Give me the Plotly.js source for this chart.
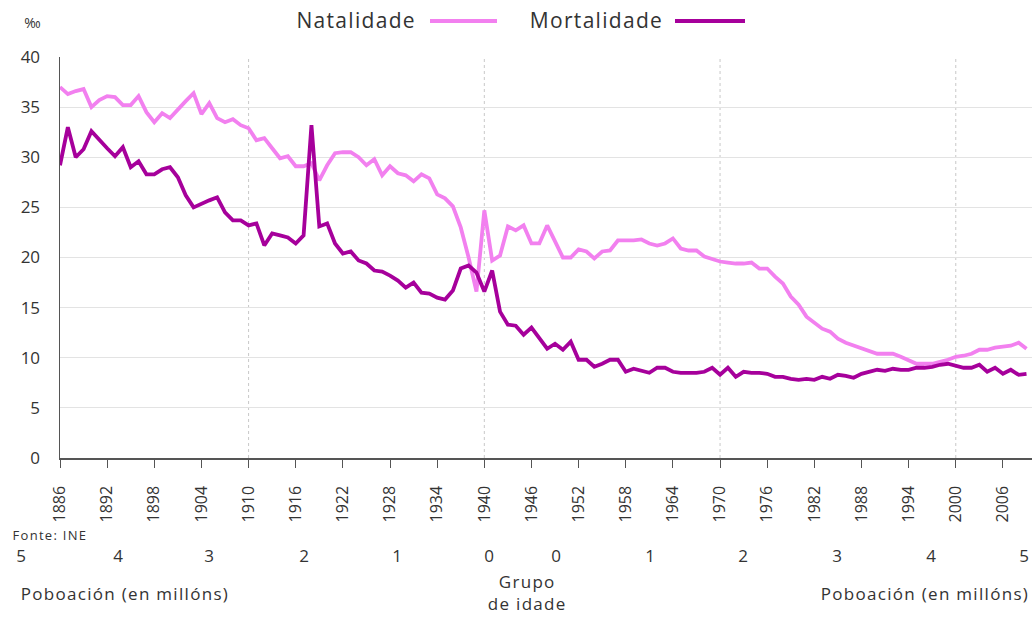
<!DOCTYPE html>
<html>
<head>
<meta charset="utf-8">
<script src="https://cdn.plot.ly/plotly-3.0.1.min.js"></script>
<style>
html,body{margin:0;padding:0;background:#fff;}
#chart{width:1034px;height:617px;}
#chart .annotation-text{letter-spacing:1.3px;}
</style>
</head>
<body>
<div id="chart"></div>
<script>
const startYear = 1886;
const natalidade = [
37.0,36.3,36.6,36.8,35.0,35.7,36.1,36.0,35.2,35.2,
36.1,34.5,33.5,34.4,33.9,34.8,35.6,36.4,34.3,35.4,
33.9,33.5,33.8,33.2,32.9,31.7,31.9,30.9,29.9,30.1,
29.1,29.1,29.4,27.7,29.2,30.4,30.5,30.5,30.0,29.2,
29.8,28.2,29.1,28.4,28.2,27.6,28.3,27.9,26.3,25.9,
25.1,23.0,20.0,16.6,24.7,19.7,20.2,23.1,22.7,23.2,
21.4,21.4,23.2,21.6,20.0,20.0,20.8,20.6,19.9,20.6,
20.7,21.7,21.7,21.7,21.8,21.4,21.2,21.4,21.9,20.9,
20.7,20.7,20.1,19.8,19.6,19.5,19.4,19.4,19.5,18.9,
18.9,18.1,17.4,16.1,15.3,14.1,13.5,12.9,12.6,11.9,
11.5,11.2,10.9,10.6,10.4,10.4,10.4,10.1,9.7,9.4,
9.4,9.4,9.6,9.8,10.1,10.2,10.4,10.8,10.8,11.0,
11.1,11.2,11.5,10.9];
const mortalidade = [
29.2,33.0,30.0,30.8,32.6,31.7,30.9,30.1,31.0,29.0,
29.6,28.3,28.3,28.8,29.0,28.0,26.2,25.0,25.4,25.7,
26.0,24.5,23.7,23.7,23.2,23.4,21.2,22.4,22.2,22.0,
21.4,22.2,33.2,23.1,23.4,21.4,20.4,20.6,19.7,19.4,
18.7,18.6,18.2,17.7,17.0,17.5,16.5,16.4,16.0,15.8,
16.7,18.9,19.2,18.5,16.6,18.7,14.6,13.3,13.2,12.3,
13.0,11.9,10.9,11.4,10.8,11.6,9.8,9.8,9.1,9.4,
9.8,9.8,8.6,8.9,8.7,8.5,9.0,9.0,8.6,8.5,
8.5,8.5,8.6,9.0,8.3,9.0,8.1,8.6,8.5,8.5,
8.4,8.1,8.1,7.9,7.8,7.9,7.8,8.1,7.9,8.3,
8.2,8.0,8.4,8.6,8.8,8.7,8.9,8.8,8.8,9.0,
9.0,9.1,9.3,9.4,9.2,9.0,9.0,9.3,8.6,9.0,
8.4,8.8,8.3,8.4];
const years = natalidade.map((_, i) => startYear + i);
const seriesNames = ["Natalidade", "Mortalidade"];
const yTicks = [0,5,10,15,20,25,30,35,40];
const xTicks = [1886,1892,1898,1904,1910,1916,1922,1928,1934,1940,1946,1952,1958,1964,1970,1976,1982,1988,1994,2000,2006];
const dottedYears = [1910,1940,1970,2000];
const popLabels = ["5","4","3","2","1","0","0","1","2","3","4","5"];
const unitLabel = "‰";
const sourceLabel = "Fonte: INE";
const popTitle = "Poboación (en millóns)";
const groupTitle = "Grupo<br>de idade";

const pink = "#F280EF";
const dark = "#A6009B";
const font = "Open Sans, DejaVu Sans, sans-serif";

const traces = [
  {x: years, y: natalidade, type: "scatter", mode: "lines", name: seriesNames[0],
   line: {color: pink, width: 3.8}, showlegend: false},
  {x: years, y: mortalidade, type: "scatter", mode: "lines", name: seriesNames[1],
   line: {color: dark, width: 3.8}, showlegend: false}
];

// paper coordinate helpers (plot area: x 60..1032, y 57..458)
const L = 60, R = 2, T = 57, B = 159, W = 1034, H = 617;
const pw = W - L - R, ph = H - T - B;
const px = v => (v - L) / pw;
const py = v => (H - B - v) / ph;

function note(text, x, y, size) {
  return {text: text, x: px(x), y: py(y), xref: "paper", yref: "paper",
    xanchor: "center", yanchor: "middle", showarrow: false,
    font: {family: font, size: size, color: "#333"}};
}

const popX = [22,119,210,305,398,490,557,651,744,838,932,1025];
const annotations = [
  note(unitLabel, 33, 22, 14),
  note(seriesNames[0], 356, 20, 21),
  note(seriesNames[1], 596, 20, 21),
  note(sourceLabel, 50, 535, 13),
  note(popTitle, 125, 593, 17),
  note(popTitle, 925, 593, 17),
  note(groupTitle, 527, 592, 17)
];
popLabels.forEach((t, i) => annotations.push(note(t, popX[i], 555, 17)));

const shapes = [
  {type: "line", xref: "paper", yref: "paper", x0: px(430), x1: px(497), y0: py(21), y1: py(21),
   line: {color: pink, width: 4}},
  {type: "line", xref: "paper", yref: "paper", x0: px(675), x1: px(745), y0: py(21), y1: py(21),
   line: {color: dark, width: 4}}
];
dottedYears.forEach(yr => shapes.push({
  type: "line", xref: "x", yref: "paper", x0: yr, x1: yr, y0: 0, y1: 1, layer: "below",
  line: {color: "#c8c8c8", width: 1, dash: "dot"}
}));

const layout = {
  width: W, height: H,
  margin: {l: L, r: R, t: T, b: B},
  paper_bgcolor: "#fff", plot_bgcolor: "#fff",
  font: {family: font, color: "#333"},
  xaxis: {
    range: [1886, 2009.7], tickvals: xTicks, ticktext: xTicks.map(String),
    tickangle: -90, ticks: "outside", ticklen: 8, tickcolor: "#555", tickwidth: 1,
    ticklabelstandoff: 12,
    showgrid: false, zeroline: false, showline: true, linecolor: "#555", linewidth: 1.5,
    tickfont: {family: font, size: 16, color: "#333"}, fixedrange: true
  },
  yaxis: {
    range: [0, 40], tickvals: yTicks, showgrid: true, gridcolor: "#e3e3e3", gridwidth: 1,
    zeroline: false, showline: true, linecolor: "#555", linewidth: 1.5, ticks: "",
    ticklabelstandoff: 15,
    tickfont: {family: font, size: 17, color: "#333"}, fixedrange: true
  },
  annotations: annotations,
  shapes: shapes,
  showlegend: false
};

Plotly.newPlot("chart", traces, layout, {displayModeBar: false, staticPlot: true});
</script>
</body>
</html>
